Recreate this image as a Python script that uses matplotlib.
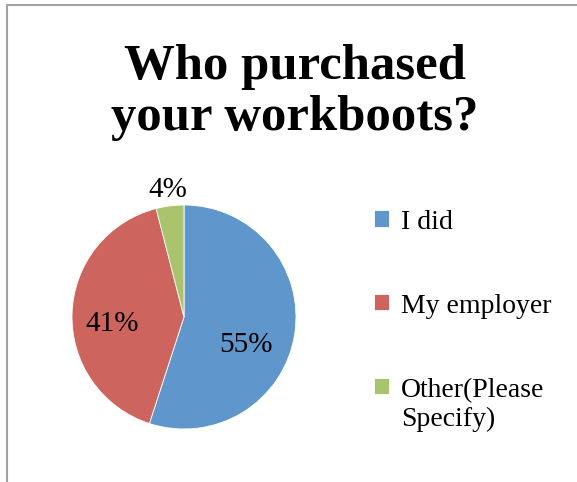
import matplotlib
matplotlib.use("Agg")
import matplotlib.pyplot as plt
from matplotlib.patches import Rectangle
import numpy as np

# survey answers
categories = ["I did", "My employer", "Other(Please\nSpecify)"]
shares = [55, 41, 4]
colors = ["#5f96cb", "#cd645e", "#a9c46c"]

title = "Who purchased\nyour workboots?"

plt.rcParams['font.family'] = ['Liberation Serif', 'DejaVu Serif']

W, H = 577, 482
fig = plt.figure(figsize=(W / 100, H / 100), dpi=100)
ax = fig.add_axes([0, 0, 1, 1])
ax.set_xlim(0, W)
ax.set_ylim(0, H)
ax.set_aspect('equal')
ax.axis('off')

# chart frame (left and top edges show)
ax.add_patch(Rectangle((6.5, -20), W + 20, H - 4.5 + 20, fill=False,
                       edgecolor='#a3a3a3', linewidth=1.5))

ax.text(295, H - 44, title, ha='center', va='top', fontsize=36.5,
        fontweight='bold', linespacing=1.15)

center = (184, H - 317)
radius = 112
wedges, _ = ax.pie(shares, colors=colors, startangle=90, counterclock=False,
                   center=center, radius=radius, frame=True,
                   wedgeprops=dict(edgecolor='white', linewidth=0.6))
ax.set_xlim(0, W)
ax.set_ylim(0, H)
ax.axis('off')

# data labels, placed relative to each wedge's middle angle
label_dist = [0.6, 0.64, 1.16]
label_shift = [-14, 6, 0]
for w, v, d, s in zip(wedges, shares, label_dist, label_shift):
    ang = np.deg2rad((w.theta1 + w.theta2) / 2 + s)
    x = center[0] + d * radius * np.cos(ang)
    y = center[1] + d * radius * np.sin(ang)
    ax.text(x, y - 2, f"{v}%", ha='center', va='center', fontsize=21)

leg = ax.legend(wedges, categories, loc='upper left',
                bbox_to_anchor=(374, H - 210), bbox_transform=ax.transData,
                frameon=False, fontsize=20, borderpad=0, borderaxespad=0,
                handlelength=0.54, handleheight=0.54, handletextpad=0.42,
                labelspacing=2.12)
for col in leg._legend_handle_box.get_children():
    for item in col.get_children():
        item.align = "top"

fig.savefig("out.png", dpi=100)
